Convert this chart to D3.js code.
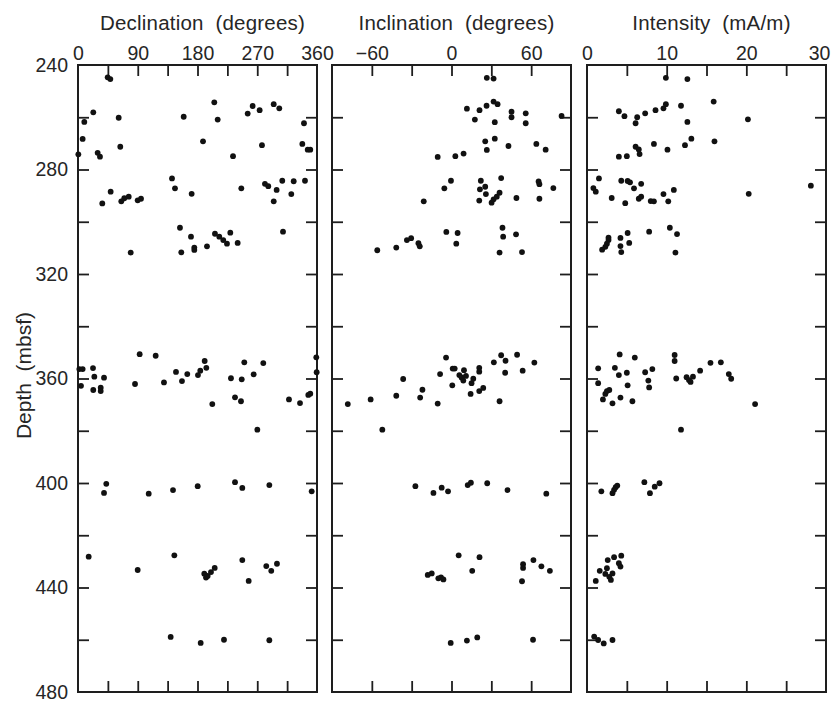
<!DOCTYPE html>
<html>
<head>
<meta charset="utf-8">
<script src="https://cdn.jsdelivr.net/npm/d3@7/dist/d3.min.js"></script>
<style>
  html, body { margin: 0; padding: 0; background: #fff; }
  svg text { font-family: "Liberation Sans", Arial, Helvetica, sans-serif; fill: #262626; white-space: pre; }
</style>
</head>
<body>
<svg id="chart" width="833" height="702"></svg>
<script>
// Paleomagnetic measurements versus depth: [depth (mbsf), value]
const declination = [
  [244.7, 44.7], [245.4, 48.7], [258.1, 23], [261.8, 9.5], [260.2, 61.3], [268.3, 7],
  [274.2, 0.5], [273.6, 29.6], [275.1, 33.1], [271.3, 63.7], [288.5, 49.2], [293.0, 36.6],
  [292.2, 65.2], [291.0, 69.7], [290.4, 76.4], [291.8, 89.9], [291.2, 94.9], [311.8, 79.4],
  [259.8, 159.2], [254.3, 205.3], [260.9, 210.4], [269.2, 188.3], [274.9, 233.5],
  [283.4, 141.6], [287.2, 146.1], [289.3, 171.2], [302.3, 153.6], [305.7, 170.2],
  [311.7, 155.6], [309.9, 175.2], [310.8, 175.2], [309.4, 194.3], [304.6, 206.3],
  [305.7, 212.8], [307.0, 218.8], [308.4, 224.4], [304.2, 229.4], [308.1, 240.5],
  [287.2, 246], [258.6, 255.6], [255.7, 263.1], [257.3, 273.6], [270.7, 277.1],
  [255.0, 294.8], [256.6, 303.2], [285.5, 281.6], [286.4, 286.6], [287.8, 299.2],
  [292.2, 294.8], [284.3, 307.7], [284.5, 324.9], [289.4, 321.3], [284.3, 341.9],
  [303.8, 308.8], [262.3, 340.4], [270.2, 337.9], [272.4, 346], [272.4, 349.9],
  [356.4, 2], [356.4, 7], [362.8, 4.5], [356.0, 22.6], [359.3, 24.6], [364.4, 23],
  [363.5, 34.2], [364.8, 34.2], [359.7, 39.2], [350.7, 92.9], [351.3, 117], [362.1, 85.9],
  [361.5, 129.5], [357.5, 147.6], [361.0, 156.6], [358.3, 164.6], [358.7, 180.7],
  [357.0, 184.2], [353.3, 190.8], [355.9, 193.3], [369.8, 202.3], [359.9, 230.4],
  [367.2, 236.5], [368.7, 245.5], [360.3, 246.6], [353.8, 250.5], [358.4, 264.6],
  [354.1, 279.1], [379.6, 270.1], [368.0, 317.8], [369.4, 334.4], [366.3, 346.9],
  [365.8, 349.9], [351.9, 358.9], [357.6, 359.5],
  [400.3, 42.6], [403.8, 39.2], [404.1, 106.5], [402.7, 143.1], [401.2, 180.3],
  [399.7, 236.5], [401.9, 247.5], [400.8, 288.2], [403.2, 352],
  [428.2, 16.1], [433.3, 89.9], [427.7, 145.1], [434.7, 190.2], [436.2, 192.8],
  [435.6, 195.3], [434.1, 200.3], [432.5, 205.9], [429.5, 247.5], [437.5, 257.1],
  [431.8, 283.6], [433.6, 291.1], [430.9, 299.7],
  [458.9, 139.6], [461.2, 184.8], [460.0, 219.9], [460.2, 288.2]
];

const inclination = [
  [244.9, 26.6], [245.2, 31.7], [256.7, 11.6], [260.9, 17.6], [257.3, 21.1], [255.6, 26.4],
  [254.0, 31.7], [255.0, 34.7], [261.9, 32.6], [257.9, 45.2], [260.0, 45.2], [258.5, 55.9],
  [262.3, 55.9], [259.5, 82.9], [269.2, 25.4], [268.2, 32.6], [272.5, 26.6], [271.0, 42.9],
  [270.2, 63.9], [272.4, 70.9], [275.2, -10.4], [274.9, 2.9], [273.9, 9.1], [284.3, -0.4],
  [287.2, -5.4], [292.2, -20.9], [284.3, 22.1], [287.6, 21.4], [286.6, 25.4], [289.4, 25.9],
  [291.9, 20.9], [292.7, 30.2], [291.4, 31.7], [290.4, 34.1], [288.9, 36.2], [283.3, 37.4],
  [290.9, 48.9], [284.6, 65.6], [285.6, 66.2], [291.2, 66.2], [287.1, 76.7],
  [310.9, -55.9], [309.9, -41.6], [307.0, -33.6], [306.3, -30.4], [308.2, -24.9],
  [309.4, -23.9], [303.9, -3.9], [304.3, 4.6], [308.4, 3.6], [302.3, 38.4], [305.7, 38.9],
  [304.8, 48.6], [311.8, 36.2], [311.6, 53.1],
  [369.8, -78.1], [368.0, -60.9], [379.6, -52.1], [366.6, -41.6], [360.2, -36.4],
  [364.3, -21.9], [367.3, -23.6], [369.6, -10.4], [358.3, -8.6], [352.0, -4.1],
  [362.6, 0.6], [356.2, 0.9], [356.2, 2.4], [358.7, 5.9], [359.6, 7.6], [356.8, 9.4],
  [360.8, 8.9], [359.0, 10.9], [365.9, 14.4], [361.8, 15.1], [360.1, 16.4], [364.8, 20.9],
  [363.6, 23.9], [355.9, 20.9], [357.4, 20.9], [353.8, 31.9], [351.1, 37.4], [353.2, 40.7],
  [357.8, 40.4], [368.7, 36.2], [350.9, 49.4], [357.0, 53.6], [353.9, 62.4],
  [401.2, -27.2], [403.8, -13.6], [401.8, -7.4], [403.2, -2.6], [400.8, 12.2],
  [399.9, 14.6], [400.1, 26.9], [402.7, 42.2], [404.1, 71.4],
  [427.7, 5.4], [428.4, 21.1], [433.6, 15.6], [435.2, -17.9], [434.6, -14.9],
  [436.5, -9.9], [436.1, -7.9], [436.9, -6.1], [437.6, 53.1], [431.1, 53.9], [432.5, 53.9],
  [429.5, 61.7], [431.9, 67.7], [433.6, 74.1],
  [461.2, -0.6], [460.3, 11.6], [459.1, 19.4], [460.0, 61.4]
];

const intensity = [
  [244.9, 9.9], [245.4, 12.6], [257.7, 4.0], [259.6, 4.7], [260.0, 6.3], [262.3, 6.1],
  [258.5, 7.3], [257.3, 8.6], [256.6, 9.6], [255.0, 9.9], [255.6, 11.8], [254.0, 15.9],
  [261.8, 12.6], [260.8, 20.2], [275.1, 4.0], [274.9, 5.0], [271.3, 6.1], [272.3, 6.5],
  [274.1, 6.6], [270.2, 8.4], [272.4, 10.1], [270.7, 12.3], [268.2, 13.1], [269.2, 16.0],
  [287.1, 0.8], [288.5, 1.1], [283.4, 1.5], [290.9, 3.1], [284.3, 4.3], [284.4, 5.1],
  [284.9, 5.4], [287.2, 5.9], [285.5, 6.8], [292.9, 4.8], [291.2, 6.5], [290.4, 6.8],
  [292.1, 8.0], [292.2, 8.4], [289.4, 9.6], [292.2, 10.2], [287.8, 10.9], [289.3, 20.3],
  [286.2, 28.1],
  [306.1, 2.7], [307.0, 2.7], [308.4, 2.5], [309.6, 2.3], [310.7, 1.9], [306.2, 4.2],
  [304.3, 5.1], [308.1, 5.3], [309.3, 4.2], [311.6, 4.3], [303.8, 7.8], [302.3, 10.4],
  [304.7, 11.3], [311.8, 11.1],
  [356.1, 1.4], [361.8, 1.4], [368.0, 2.0], [365.9, 2.3], [364.8, 2.5], [364.4, 2.8],
  [369.5, 3.2], [355.9, 3.5], [350.8, 4.1], [358.7, 4.0], [367.3, 4.2], [357.8, 5.0],
  [362.6, 5.1], [368.7, 5.7], [352.0, 6.0], [357.6, 7.3], [356.4, 8.2], [360.8, 7.7],
  [363.4, 7.8], [351.0, 11.0], [353.3, 11.0], [360.0, 11.2], [359.5, 12.5], [360.6, 12.8],
  [361.3, 13.0], [359.3, 13.3], [357.0, 14.2], [354.0, 15.5], [353.8, 16.8], [358.3, 17.8],
  [360.1, 18.1], [369.8, 21.1], [379.6, 11.8],
  [403.2, 1.8], [403.9, 3.2], [402.6, 3.4], [401.6, 3.6], [401.0, 3.8], [399.7, 7.2],
  [403.9, 7.9], [401.4, 8.5], [400.1, 9.1],
  [437.5, 1.1], [433.6, 1.6], [434.8, 2.3], [432.6, 2.5], [435.9, 2.8], [437.1, 3.0],
  [434.6, 3.2], [429.5, 2.6], [428.4, 3.4], [427.8, 4.3], [430.7, 4.0], [432.0, 4.2],
  [458.8, 0.9], [460.1, 1.4], [461.4, 2.1], [460.1, 3.2]
];

// Axis ticks and labels
const depthDomain = [240, 480];
const depthTicks = [260, 280, 300, 320, 340, 360, 380, 400, 420, 440, 460];
const depthLabels = [240, 280, 320, 360, 400, 440, 480];

const declinationDomain = [0, 360];
const declinationTicks = [45, 90, 135, 180, 225, 270, 315];
const declinationLabels = [0, 90, 180, 270, 360];

const inclinationDomain = [-90, 90];
const inclinationTicks = [-60, -30, 0, 30, 60];
const inclinationLabels = [-60, 0, 60];

const intensityDomain = [0, 30];
const intensityTicks = [5, 10, 15, 20, 25];
const intensityLabels = [0, 10, 20, 30];

const titles = ["Declination  (degrees)", "Inclination  (degrees)", "Intensity  (mA/m)"];
const depthTitle = "Depth  (mbsf)";

// Layout
const plotTop = 65, plotBottom = 692, panelWidth = 239, tickLen = 11;
const panelLefts = [78, 332, 587];
const ink = "#1e1e1e";
const fontSize = 19.5;
const svgWidth = 833;

const svg = d3.select("#chart");
const y = d3.scaleLinear().domain(depthDomain).range([plotTop, plotBottom]);

const fmt = v => (v < 0 ? "\u2212" + Math.abs(v) : String(v));

const panels = [
  { data: declination, domain: declinationDomain, ticks: declinationTicks, labels: declinationLabels },
  { data: inclination, domain: inclinationDomain, ticks: inclinationTicks, labels: inclinationLabels },
  { data: intensity, domain: intensityDomain, ticks: intensityTicks, labels: intensityLabels }
];

function styleAxis(g) {
  g.select(".domain").remove();
  g.selectAll(".tick line").attr("stroke", ink).attr("stroke-width", 1.8);
  g.selectAll(".tick text")
    .attr("font-size", fontSize)
    .attr("fill", "#262626")
    .style("font-family", '"Liberation Sans", Arial, Helvetica, sans-serif');
}

panels.forEach((p, i) => {
  const x0 = panelLefts[i];
  const x = d3.scaleLinear().domain(p.domain).range([x0, x0 + panelWidth]);
  const g = svg.append("g");

  // inward ticks on all four sides
  g.append("g").attr("transform", `translate(0,${plotTop})`)
    .call(d3.axisTop(x).tickValues(p.ticks).tickSize(-tickLen).tickFormat(""))
    .call(styleAxis);
  g.append("g").attr("transform", `translate(0,${plotBottom})`)
    .call(d3.axisBottom(x).tickValues(p.ticks).tickSize(-tickLen).tickFormat(""))
    .call(styleAxis);
  g.append("g").attr("transform", `translate(${x0},0)`)
    .call(d3.axisLeft(y).tickValues(depthTicks).tickSize(-tickLen).tickFormat(""))
    .call(styleAxis);
  g.append("g").attr("transform", `translate(${x0 + panelWidth},0)`)
    .call(d3.axisRight(y).tickValues(depthTicks).tickSize(-tickLen).tickFormat(""))
    .call(styleAxis);

  // value labels along the top
  const labelAxis = g.append("g").attr("transform", `translate(0,${plotTop})`)
    .call(d3.axisTop(x).tickValues(p.labels).tickSize(0).tickPadding(5).tickFormat(fmt))
    .call(styleAxis);
  // keep the rightmost label inside the page
  labelAxis.selectAll(".tick text").each(function () {
    const t = d3.select(this);
    const box = this.getBBox();
    const tickX = x(d3.select(this.parentNode).datum());
    const overflow = tickX + box.x + box.width - (svgWidth - 3);
    if (overflow > 0) t.attr("x", -overflow);
  });

  // frame
  g.append("rect")
    .attr("x", x0).attr("y", plotTop)
    .attr("width", panelWidth).attr("height", plotBottom - plotTop)
    .attr("fill", "none").attr("stroke", ink).attr("stroke-width", 2);

  // panel title
  g.append("text")
    .attr("x", x0 + panelWidth / 2 + 5).attr("y", 30)
    .attr("text-anchor", "middle")
    .attr("font-size", 20.5)
    .attr("letter-spacing", 0.2)
    .text(titles[i]);

  // measurements
  g.append("g").selectAll("circle")
    .data(p.data)
    .join("circle")
    .attr("cx", d => x(d[1]))
    .attr("cy", d => y(d[0]))
    .attr("r", 2.9)
    .attr("fill", "#111");
});

// depth labels
svg.append("g").attr("transform", `translate(${panelLefts[0]},0)`)
  .call(d3.axisLeft(y).tickValues(depthLabels).tickSize(0).tickPadding(10).tickFormat(d3.format("d")))
  .call(styleAxis);

svg.append("text")
  .attr("transform", `translate(31,${(plotTop + plotBottom) / 2 - 3}) rotate(-90)`)
  .attr("text-anchor", "middle")
  .attr("font-size", 21)
  .text(depthTitle);
</script>
</body>
</html>
